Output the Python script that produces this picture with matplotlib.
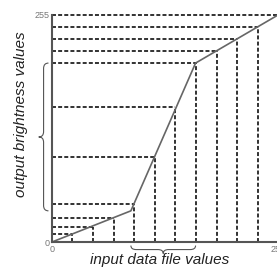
import matplotlib
matplotlib.use("Agg")
import matplotlib.pyplot as plt
from matplotlib.path import Path
from matplotlib.patches import PathPatch

# sample points (input -> output)
input_vals = [23, 46, 70, 93, 116, 139, 162, 186, 209, 232, 255]
output_vals = [9, 17, 27, 43, 95, 152, 201, 215, 228, 241, 255]

# piecewise linear stretch (breakpoints)
curve_x = [0, 89, 162, 255]
curve_y = [0, 35, 201, 255]

x_label = "input data file values"
y_label = "output brightness values"


def brace(ax, a, b, base, h, vertical):
    # curly brace from a to b, sitting at 'base', bulging outwards by 2*h
    m = (a + b) / 2
    r = 6
    pts = [(base, a), (base - h, a), (base - h, a + r),
           (base - h, m - r), (base - h, m), (base - 2 * h, m),
           (base - h, m), (base - h, m + r),
           (base - h, b - r), (base - h, b), (base, b)]
    codes = [Path.MOVETO, Path.CURVE3, Path.CURVE3,
             Path.LINETO, Path.CURVE3, Path.CURVE3,
             Path.CURVE3, Path.CURVE3,
             Path.LINETO, Path.CURVE3, Path.CURVE3]
    if not vertical:
        pts = [(p[1], p[0]) for p in pts]
    ax.add_patch(PathPatch(Path(pts, codes), fill=False, lw=0.8,
                           color="#555555", clip_on=False))


plt.rcParams['font.family'] = ['Liberation Sans', 'DejaVu Sans']

fig = plt.figure(figsize=(2.77, 2.71), dpi=100)
ax = fig.add_axes([52 / 277, 29 / 271, 226 / 277, 227 / 271])

dash = (0, (2.2, 1.2))
for xi, yi in zip(input_vals, output_vals):
    ax.plot([0, xi], [yi, yi], color="#222222", lw=1.3, linestyle=dash, clip_on=False)
    ax.plot([xi, xi], [0, yi], color="#222222", lw=1.3, linestyle=dash, clip_on=False)

ax.plot(curve_x, curve_y, color="#666666", lw=1.2, clip_on=False)

ax.set_xlim(0, 255)
ax.set_ylim(0, 255)
for s in ["top", "right"]:
    ax.spines[s].set_visible(False)
for s in ["left", "bottom"]:
    ax.spines[s].set_color("#555555")
    ax.spines[s].set_linewidth(1.5)

ax.set_xticks([0, 255])
ax.set_yticks([0, 255])
ax.tick_params(length=0, labelsize=6.5, colors="#777777", pad=2)

brace(ax, curve_y[1], curve_y[2], -4, 5.5, vertical=True)
brace(ax, curve_x[1], curve_x[2], -4, 4.5, vertical=False)

ax.text(-35, 144, y_label, rotation=90, ha="center", va="center",
        fontsize=11, style="italic", color="#222222")
ax.text(121, -20, x_label, ha="center", va="center",
        fontsize=11, style="italic", color="#222222")

fig.savefig("out.png", dpi=100)
